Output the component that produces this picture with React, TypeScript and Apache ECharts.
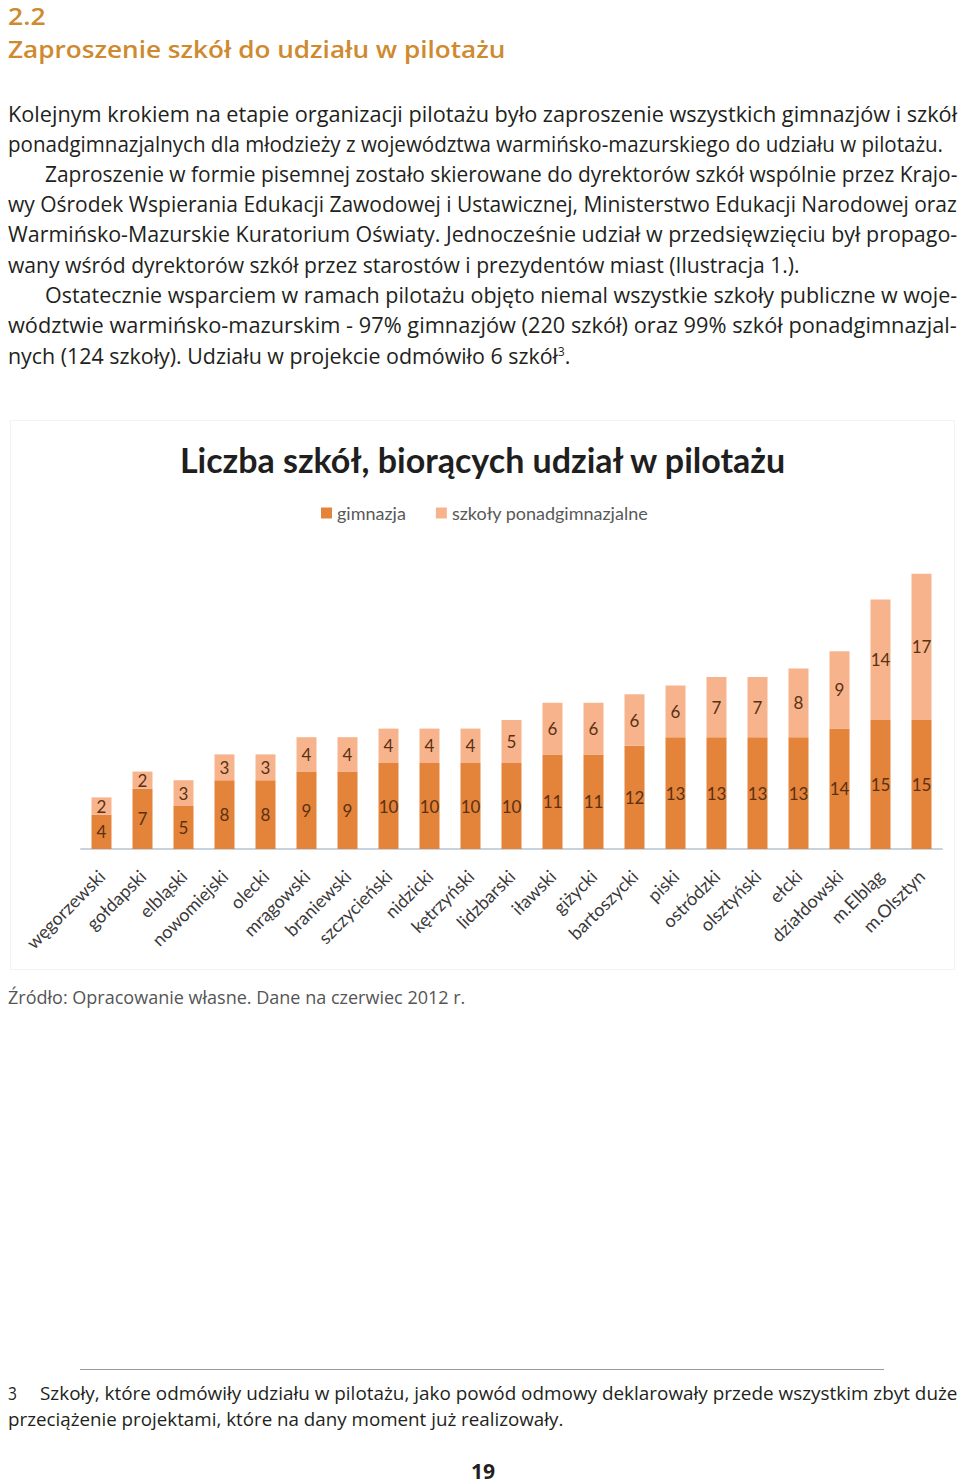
import React, { useEffect, useLayoutEffect, useRef } from "react";
import * as echarts from "echarts";

const categories = [
  "węgorzewski", "gołdapski", "elbląski", "nowomiejski", "olecki", "mrągowski",
  "braniewski", "szczycieński", "nidzicki", "kętrzyński", "lidzbarski", "iławski",
  "giżycki", "bartoszycki", "piski", "ostródzki", "olsztyński", "ełcki",
  "działdowski", "m.Elbląg", "m.Olsztyn",
];
const gimnazja = [4, 7, 5, 8, 8, 9, 9, 10, 10, 10, 10, 11, 11, 12, 13, 13, 13, 13, 14, 15, 15];
const ponadgimnazjalne = [2, 2, 3, 3, 3, 4, 4, 4, 4, 4, 5, 6, 6, 6, 6, 7, 7, 8, 9, 14, 17];
const seriesNames = ["gimnazja", "szkoły ponadgimnazjalne"];
const chartTitle = "Liczba szkół, biorących udział w pilotażu";

const paragraphLines = [
  "Kolejnym krokiem na etapie organizacji pilotażu było zaproszenie wszystkich gimnazjów i szkół",
  "ponadgimnazjalnych dla młodzieży z województwa warmińsko-mazurskiego do udziału w pilotażu.",
  "Zaproszenie w formie pisemnej zostało skierowane do dyrektorów szkół wspólnie przez Krajo-",
  "wy Ośrodek Wspierania Edukacji Zawodowej i Ustawicznej, Ministerstwo Edukacji Narodowej oraz",
  "Warmińsko-Mazurskie Kuratorium Oświaty. Jednocześnie udział w przedsięwzięciu był propago-",
  "wany wśród dyrektorów szkół przez starostów i prezydentów miast (Ilustracja 1.).",
  "Ostatecznie wsparciem w ramach pilotażu objęto niemal wszystkie szkoły publiczne w woje-",
  "wództwie warmińsko-mazurskim - 97% gimnazjów (220 szkół) oraz 99% szkół ponadgimnazjal-",
  "nych (124 szkoły). Udziału w projekcie odmówiło 6 szkół",
];

type LineProps = {
  x: number; cy: number; w: number; size: number; lh?: number;
  weight?: number | string; color?: string; family?: string; children: React.ReactNode;
};

function FitLine({ x, cy, w, size, lh = 28, weight = 400, color = "#231f20", family = "'Open Sans', sans-serif", children }: LineProps) {
  const ref = useRef<HTMLSpanElement>(null);
  useLayoutEffect(() => {
    const el = ref.current;
    if (!el) return;
    el.style.transform = "none";
    const nat = el.offsetWidth;
    if (nat > 0) el.style.transform = `scaleX(${w / nat})`;
  });
  return (
    <div style={{ position: "absolute", left: x, top: cy - lh / 2, height: lh, lineHeight: lh + "px", whiteSpace: "nowrap" }}>
      <span ref={ref} style={{ display: "inline-block", transformOrigin: "0 50%", fontSize: size, lineHeight: lh + "px", fontWeight: weight as any, color, fontFamily: family }}>
        {children}
      </span>
    </div>
  );
}

function Chart() {
  const ref = useRef<HTMLDivElement>(null);
  useEffect(() => {
    if (!ref.current) return;
    const chart = echarts.init(ref.current, undefined, { renderer: "svg" });
    const labelStyle = {
      show: true,
      position: "inside" as const,
      fontFamily: "Lato, sans-serif",
      fontSize: 17,
      color: "#5a3113",
    };
    chart.setOption({
      animation: false,
      title: {
        text: chartTitle,
        left: "center",
        top: 16,
        textStyle: { fontFamily: "Lato, sans-serif", fontWeight: "bold", fontSize: 34, color: "#1f1f1f" },
      },
      legend: {
        top: 78,
        left: 305,
        icon: "rect",
        itemWidth: 11,
        itemHeight: 11,
        itemGap: 30,
        data: seriesNames,
        textStyle: { fontFamily: "Lato, sans-serif", fontSize: 18, color: "#595959" },
      },
      grid: { left: 70, top: 127, width: 861, height: 301 },
      xAxis: {
        type: "category",
        data: categories,
        axisLine: { lineStyle: { color: "#c9d3dd", width: 2 } },
        axisTick: { show: false },
        axisLabel: {
          rotate: 45,
          interval: 0,
          margin: 24,
          fontFamily: "Lato, sans-serif",
          fontSize: 18,
          color: "#3a3a3a",
        },
      },
      yAxis: { type: "value", min: 0, max: 35, show: false },
      series: [
        {
          name: seriesNames[0],
          type: "bar",
          stack: "total",
          data: gimnazja,
          barWidth: 20,
          itemStyle: { color: "#E4833A" },
          label: labelStyle,
        },
        {
          name: seriesNames[1],
          type: "bar",
          stack: "total",
          data: ponadgimnazjalne,
          barWidth: 20,
          itemStyle: { color: "#F7B48C" },
          label: labelStyle,
        },
      ],
    });
    return () => chart.dispose();
  }, []);
  return (
    <div
      ref={ref}
      style={{
        position: "absolute",
        left: 10,
        top: 420,
        width: 945,
        height: 550,
        border: "1px solid #f3f3f3",
        boxSizing: "border-box",
      }}
    />
  );
}

export default function App() {
  const orange = "#cf8a2f";
  const lineCenters = [113, 143, 173, 203, 233, 264, 294, 324, 355];
  const lineX = [8, 8, 45, 8, 8, 8, 45, 8, 8];
  const lineW = [949, 935, 912, 949, 949, 792, 912, 949, 562];
  return (
    <div style={{ position: "absolute", left: 0, top: 0, width: 960, height: 1484, background: "#fff", overflow: "hidden" }}>
      <FitLine x={8} cy={16} w={38} size={23} lh={24} weight={600} color={orange}>2.2</FitLine>
      <FitLine x={8} cy={49} w={497} size={24} lh={26} weight={600} color={orange}>Zaproszenie szkół do udziału w pilotażu</FitLine>
      {paragraphLines.map((t, i) => (
        <FitLine key={i} x={lineX[i]} cy={lineCenters[i]} w={lineW[i]} size={22}>
          {i === paragraphLines.length - 1 ? (
            <>
              {t}
              <sup style={{ fontSize: 12, verticalAlign: "8px", lineHeight: 0 }}>3</sup>.
            </>
          ) : (
            t
          )}
        </FitLine>
      ))}
      <Chart />
      <FitLine x={8} cy={997} w={457} size={19} lh={24} color="#555555">Źródło: Opracowanie własne. Dane na czerwiec 2012 r.</FitLine>
      <div style={{ position: "absolute", left: 80, top: 1369, width: 804, height: 1, background: "#9a9a9a" }} />
      <FitLine x={8} cy={1393} w={9} size={19} lh={24}>3</FitLine>
      <FitLine x={40} cy={1393} w={917} size={19} lh={24}>
        Szkoły, które odmówiły udziału w pilotażu, jako powód odmowy deklarowały przede wszystkim zbyt duże
      </FitLine>
      <FitLine x={8} cy={1419} w={555} size={19} lh={24}>
        przeciążenie projektami, które na dany moment już realizowały.
      </FitLine>
      <FitLine x={471} cy={1470} w={24} size={22} lh={24} weight={700}>19</FitLine>
    </div>
  );
}
